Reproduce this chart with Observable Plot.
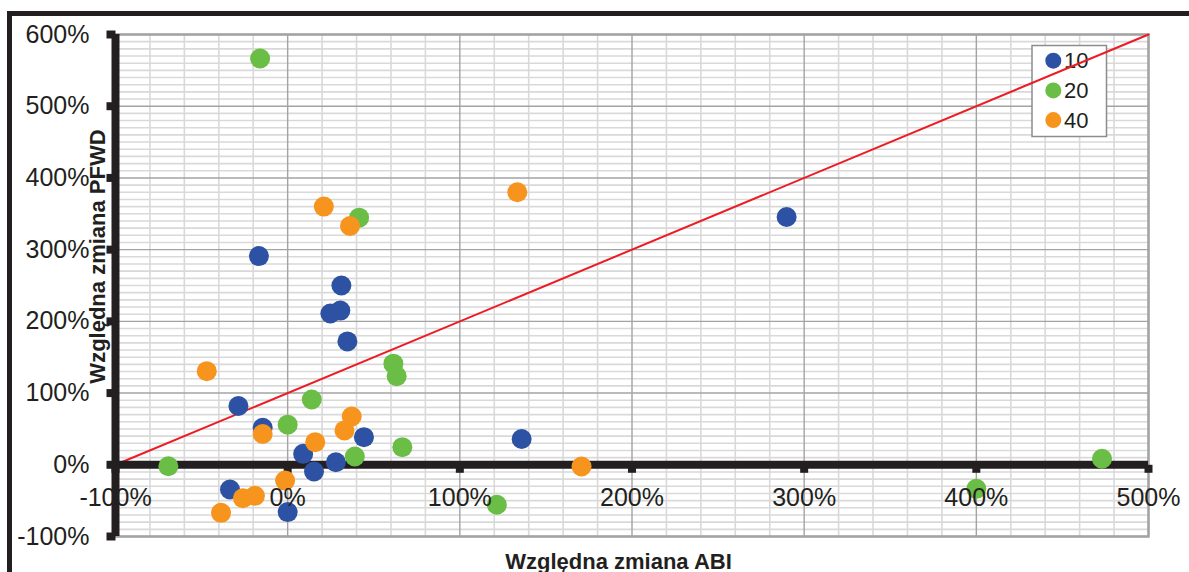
<!DOCTYPE html>
<html>
<head>
<meta charset="utf-8">
<script src="https://cdn.jsdelivr.net/npm/d3@7"></script>
<script src="https://cdn.jsdelivr.net/npm/@observablehq/plot@0.6"></script>
<style>
  body { margin: 0; background: #fff; }
  #chart { position: relative; width: 1189px; height: 572px; overflow: hidden; font-family: "Liberation Sans", Arial, sans-serif; }
  #chart svg { position: absolute; left: 0; top: 0; }
  #chart .outer { position: absolute; left: 7px; top: 11px; right: -20px; bottom: -20px; border-top: 5px solid #231f20; border-left: 5px solid #231f20; pointer-events: none; }
</style>
</head>
<body>
<div id="chart"><div class="outer"></div></div>
<script>
// Series: relative change of ABI (x) vs relative change of PFWD (y), in percent
const groups = ["10", "20", "40"];
const groupColors = ["#2e52a3", "#6abd45", "#f7941d"];

const abi10  = [-28.6, -14.5, 9, 15.3, 28, 44.3, 34.7, -33.5, 0, -16.7, 31.2, 30.6, 24.8, 289.8, 135.9];
const pfwd10 = [82, 51.6, 15.3, -9.3, 3.6, 38.5, 172, -34.5, -66, 291, 250, 215, 211, 345.5, 36];

const abi20  = [-16, 0, 14, 39, 61.4, 63.3, 66.6, 41.5, 121.5, 473, 400, -69.3];
const pfwd20 = [566.5, 56, 91, 11.6, 141, 123.6, 24.6, 344.6, -55.8, 8.4, -33.5, -2];

const abi40  = [-47, -14.5, 16, 37.2, 33, -26, -19, -38.7, -1.5, 21, 36.2, 133.4, 170.7];
const pfwd40 = [130.6, 43, 31.5, 67.4, 47.9, -46.6, -43.3, -67, -22, 360, 333, 380, -2.4];

// Reference line y = x + 100%
const refLineX = [-100, 500];
const refLineY = [0, 600];

const xTicks = [-100, 0, 100, 200, 300, 400, 500];
const yTicks = [-100, 0, 100, 200, 300, 400, 500, 600];

const xTitle = "Względna zmiana ABI";
const yTitle = "Względna zmiana PFWD";

const seriesX = [abi10, abi20, abi40];
const seriesY = [pfwd10, pfwd20, pfwd40];
const points = groups.flatMap((g, i) => seriesX[i].map((x, j) => ({group: g, x, y: seriesY[i][j]})));
const refLine = refLineX.map((x, i) => ({x, y: refLineY[i]}));

const xMinor = d3.range(-100, 501, 20).filter(v => v % 100 !== 0);
const yMinor = d3.range(-100, 601, 10).filter(v => v % 100 !== 0);

const ink = "#231f20";
const stub = {draw(context, l) { context.moveTo(0, 0); context.lineTo(0, -l); }};
const pct = d => `${d}%`;

const svg = Plot.plot({
  width: 1189,
  height: 572,
  marginLeft: 115,
  marginRight: 41,
  marginTop: 34,
  marginBottom: 36,
  x: {domain: [-100, 500], axis: null},
  y: {domain: [-100, 600], axis: null},
  color: {domain: groups, range: groupColors},
  style: {fontFamily: "'Liberation Sans', Arial, sans-serif", color: ink, background: "transparent", overflow: "visible"},
  marks: [
    // grid
    Plot.ruleX(xMinor, {stroke: "#d9d9d9", strokeWidth: 1.6}),
    Plot.ruleY(yMinor, {stroke: "#d9d9d9", strokeWidth: 1.6}),
    Plot.ruleX(xTicks, {stroke: "#a3a3a3", strokeWidth: 1.4}),
    Plot.ruleY(yTicks, {stroke: "#a3a3a3", strokeWidth: 1.4}),
    Plot.frame({stroke: "#a3a3a3", strokeWidth: 2.5}),
    // reference line
    Plot.line(refLine, {x: "x", y: "y", stroke: "#ed1c24", strokeWidth: 2}),
    // thick axes crossing at (-100%, 0%)
    Plot.ruleY([0], {stroke: ink, strokeWidth: 8}),
    Plot.ruleX([-100], {stroke: ink, strokeWidth: 8}),
    Plot.vector(xTicks, {x: d => d, y: 0, length: 8, rotate: 180, anchor: "start", shape: stub, stroke: ink, strokeWidth: 8, strokeLinecap: "butt"}),
    Plot.vector(yTicks, {x: -100, y: d => d, length: 9, rotate: -90, anchor: "start", shape: stub, stroke: ink, strokeWidth: 8, strokeLinecap: "butt"}),
    // points
    Plot.dot(points, {x: "x", y: "y", fill: "group", r: 10}),
    // tick labels
    Plot.text(xTicks, {x: d => d, y: 0, text: pct, dy: 41, lineAnchor: "bottom", fontSize: 25, fill: ink}),
    Plot.text(yTicks, {x: -100, y: d => d, text: pct, dx: -26, textAnchor: "end", fontSize: 25, fill: ink}),
    // axis titles
    Plot.text([xTitle], {frameAnchor: "bottom", dx: -13.5, dy: 32, lineAnchor: "bottom", fontSize: 22, fontWeight: "bold", fill: ink}),
    Plot.text([yTitle], {frameAnchor: "left", textAnchor: "middle", rotate: -90, dx: -17.5, dy: -29, fontSize: 22, fontWeight: "bold", fill: ink})
  ]
});

// legend box, placed beneath the reference line
const lineGroup = svg.querySelector('g[aria-label="line"]');
const legend = d3.create("svg:g").attr("aria-label", "legend").attr("text-anchor", "start");
legend.append("rect")
  .attr("x", 1032).attr("y", 45.5).attr("width", 74.5).attr("height", 91)
  .attr("fill", "#fff").attr("stroke", "#8c8c8c").attr("stroke-width", 1.5);
groups.forEach((g, i) => {
  const cy = 60.7 + i * 29.7;
  legend.append("circle").attr("cx", 1053.3).attr("cy", cy).attr("r", 8).attr("fill", groupColors[i]);
  legend.append("text").attr("x", 1064).attr("y", cy + 7.5)
    .attr("font-size", 22).attr("fill", ink).text(g);
});
lineGroup.parentNode.insertBefore(legend.node(), lineGroup);

document.getElementById("chart").prepend(svg);
</script>
</body>
</html>
